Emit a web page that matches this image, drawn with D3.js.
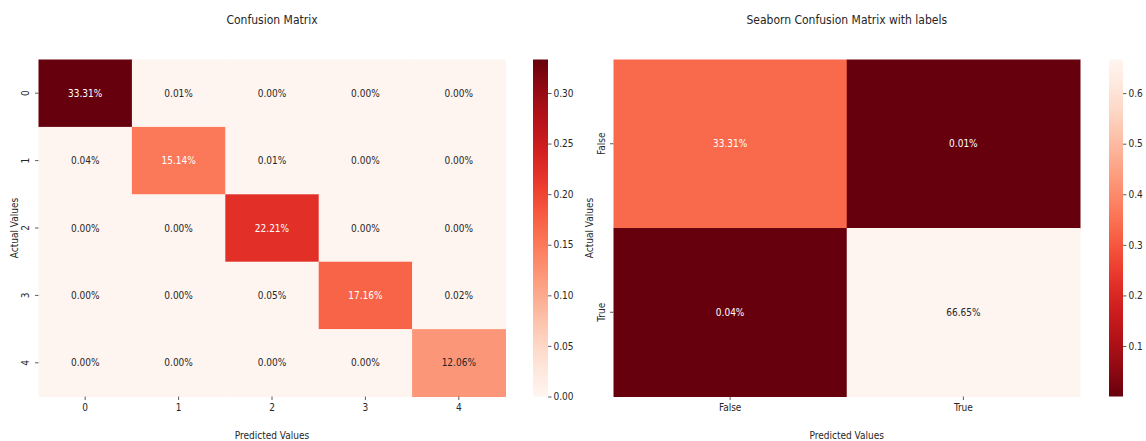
<!DOCTYPE html>
<html>
<head>
<meta charset="utf-8">
<script src="https://cdn.jsdelivr.net/npm/d3@7"></script>
<style>
  body { margin: 0; background: #fff; }
  svg text { font-family: "DejaVu Sans Condensed", "DejaVu Sans", sans-serif; font-stretch: condensed; fill: #262626; }
</style>
</head>
<body>
<div id="chart"></div>
<script>
// left matrix: classes 0..4
const classLabels = ["0", "1", "2", "3", "4"];
const classMatrix = [
    [0.3331, 0.0001, 0.0000, 0.0000, 0.0000],
    [0.0004, 0.1514, 0.0001, 0.0000, 0.0000],
    [0.0000, 0.0000, 0.2221, 0.0000, 0.0000],
    [0.0000, 0.0000, 0.0005, 0.1716, 0.0002],
    [0.0000, 0.0000, 0.0000, 0.0000, 0.1206]
];
const classTicks = [0, 0.05, 0.10, 0.15, 0.20, 0.25, 0.30];

// right matrix: boolean labels
const boolLabels = ["False", "True"];
const boolMatrix = [
    [0.3331, 0.0001],
    [0.0004, 0.6665]
];
const boolTicks = [0.1, 0.2, 0.3, 0.4, 0.5, 0.6];

const titles = ["Confusion Matrix", "Seaborn Confusion Matrix with labels"];
const xTitle = "Predicted Values";
const yTitle = "Actual Values";

const width = 1146, height = 441;
const svg = d3.select("#chart").append("svg")
    .attr("width", width).attr("height", height);

const defs = svg.append("defs");

// seaborn picks white / dark text from the cell luminance
function luminance(c) {
    const rgb = d3.rgb(c);
    const lin = [rgb.r, rgb.g, rgb.b].map(v => {
        v = v / 255;
        return v <= 0.03928 ? v / 12.92 : Math.pow((v + 0.055) / 1.055, 2.4);
    });
    return 0.2126 * lin[0] + 0.7152 * lin[1] + 0.0722 * lin[2];
}

function drawHeatmap(opts) {
    const { labels, matrix, x0, x1, y0, y1, color, cbX, cbW, ticks, cbDomain, title, id, yLabelX, yTickOff } = opts;

    const g = svg.append("g");
    const x = d3.scaleBand().domain(labels).range([x0, x1]);
    const y = d3.scaleBand().domain(labels).range([y0, y1]);

    const cells = [];
    matrix.forEach((row, i) => row.forEach((v, j) => cells.push({ r: labels[i], c: labels[j], v })));

    g.selectAll("rect.cell").data(cells).enter().append("rect")
        .attr("class", "cell")
        .attr("x", d => x(d.c)).attr("y", d => y(d.r))
        .attr("width", x.bandwidth() + 0.5).attr("height", y.bandwidth() + 0.5)
        .attr("fill", d => color(d.v));

    g.selectAll("text.annot").data(cells).enter().append("text")
        .attr("class", "annot")
        .attr("x", d => x(d.c) + x.bandwidth() / 2)
        .attr("y", d => y(d.r) + y.bandwidth() / 2)
        .attr("text-anchor", "middle")
        .attr("dominant-baseline", "central")
        .style("font-size", "10px")
        .style("fill", d => luminance(color(d.v)) < 0.408 ? "#ffffff" : "#262626")
        .text(d => d3.format(".2%")(d.v));

    // axes
    const ax = g.append("g").attr("transform", `translate(0,${y1})`)
        .call(d3.axisBottom(x).tickSize(3.5).tickPadding(4));
    const ay = g.append("g").attr("transform", `translate(${x0},0)`)
        .call(d3.axisLeft(y).tickSize(3.5).tickPadding(3));
    [ax, ay].forEach(a => {
        a.select(".domain").remove();
        a.selectAll("line").attr("stroke", "#333").attr("stroke-width", 0.8);
        a.selectAll("text").style("font-size", "10px").attr("fill", "#262626");
    });
    // rotated y tick labels, like matplotlib's default for heatmaps
    ay.selectAll("text")
        .attr("text-anchor", "middle")
        .attr("dy", "0.32em")
        .attr("x", 0).attr("y", 0)
        .attr("transform", `translate(${-yTickOff},0) rotate(-90)`);

    g.append("text")
        .attr("x", (x0 + x1) / 2).attr("y", 24)
        .attr("text-anchor", "middle")
        .style("font-size", "12px")
        .text(title);

    g.append("text")
        .attr("x", (x0 + x1) / 2).attr("y", 439)
        .attr("text-anchor", "middle")
        .style("font-size", "10px")
        .text(xTitle);

    g.append("text")
        .attr("transform", `translate(${yLabelX},${(y0 + y1) / 2}) rotate(-90)`)
        .attr("text-anchor", "middle")
        .style("font-size", "10px")
        .text(yTitle);

    // colorbar
    const cb = d3.scaleLinear().domain(cbDomain).range([y1, y0]);
    const grad = defs.append("linearGradient").attr("id", id)
        .attr("x1", 0).attr("y1", 1).attr("x2", 0).attr("y2", 0);
    d3.range(0, 1.0001, 0.02).forEach(t => {
        grad.append("stop").attr("offset", t)
            .attr("stop-color", color(cbDomain[0] + t * (cbDomain[1] - cbDomain[0])));
    });
    g.append("rect")
        .attr("x", cbX).attr("y", y0).attr("width", cbW).attr("height", y1 - y0)
        .attr("fill", `url(#${id})`);
    const ac = g.append("g").attr("transform", `translate(${cbX + cbW},0)`)
        .call(d3.axisRight(cb).tickValues(ticks).tickSize(3.5).tickPadding(2)
            .tickFormat(ticks[0] === 0 ? d3.format(".2f") : d3.format(".1f")));
    ac.select(".domain").remove();
    ac.selectAll("line").attr("stroke", "#333").attr("stroke-width", 0.8);
    ac.selectAll("text").style("font-size", "10px").attr("fill", "#262626");
}

const leftMax = d3.max(classMatrix.flat());
drawHeatmap({
    labels: classLabels, matrix: classMatrix,
    x0: 38.5, x1: 505.5, y0: 59.5, y1: 396.5,
    color: d3.scaleSequential(d3.interpolateReds).domain([0, leftMax]),
    cbX: 533, cbW: 15, ticks: classTicks, cbDomain: [0, leftMax],
    title: titles[0], id: "grad-left", yLabelX: 18, yTickOff: 13
});

const boolMin = d3.min(boolMatrix.flat()), boolMax = d3.max(boolMatrix.flat());
drawHeatmap({
    labels: boolLabels, matrix: boolMatrix,
    x0: 613.5, x1: 1080, y0: 59.5, y1: 396.5,
    color: d3.scaleSequential(d3.interpolateReds).domain([boolMax, boolMin]),
    cbX: 1109, cbW: 14, ticks: boolTicks, cbDomain: [boolMin, boolMax],
    title: titles[1], id: "grad-right", yLabelX: 593, yTickOff: 12
});
</script>
</body>
</html>
